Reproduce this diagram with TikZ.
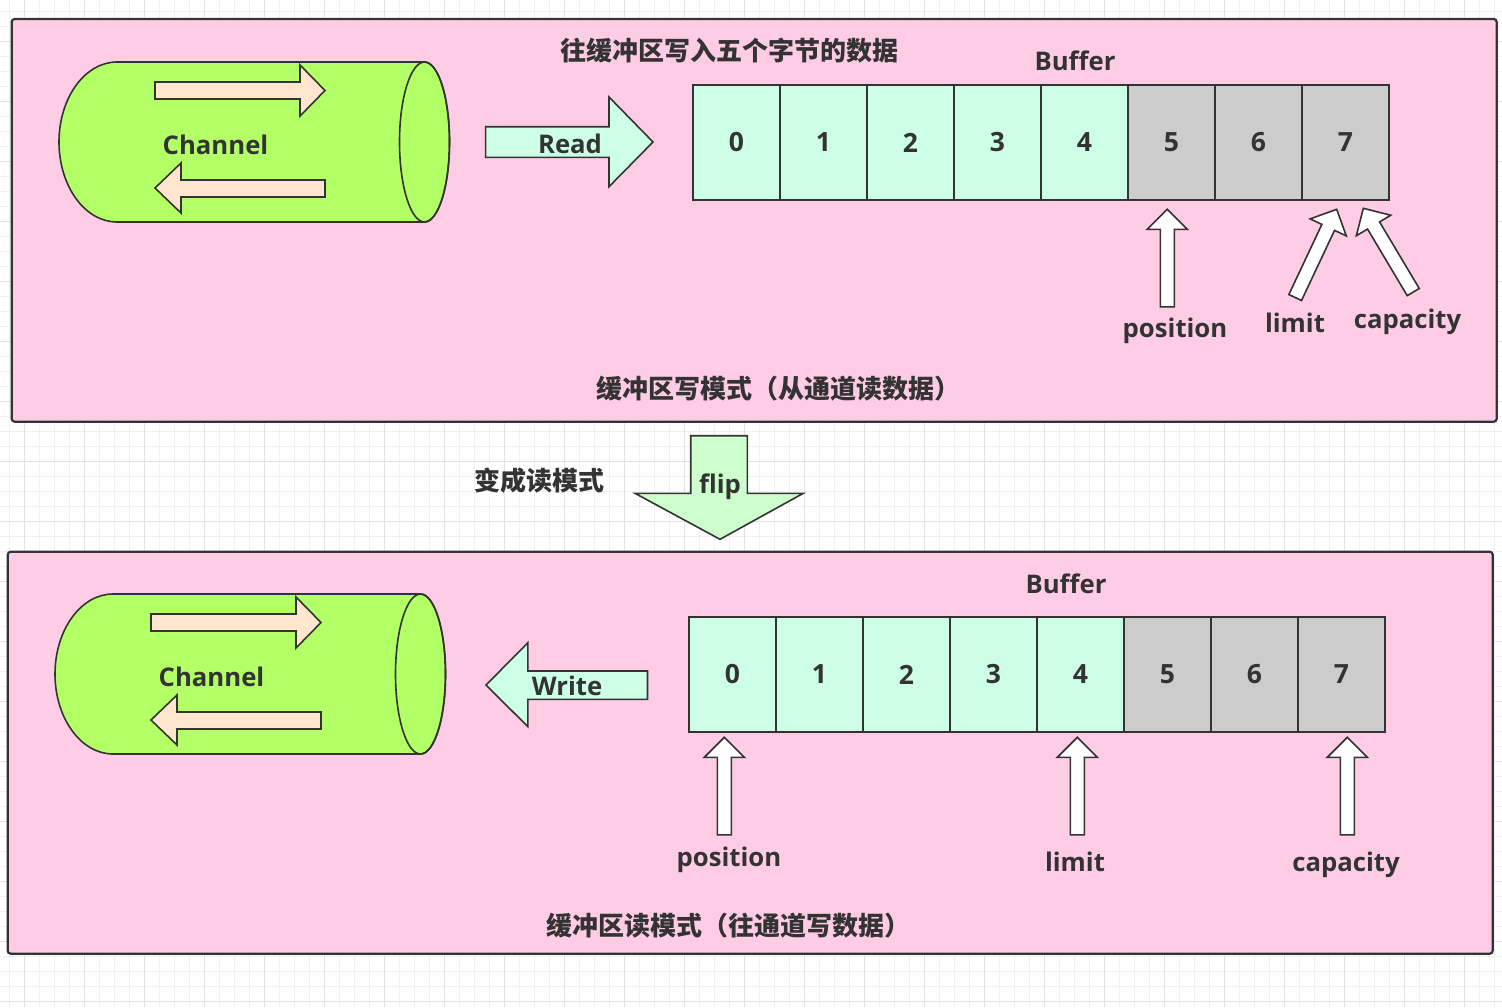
\documentclass[tikz,border=0pt]{standalone}
\usepackage{fontspec}
\setmainfont{Open Sans}
\newfontfamily\cjkfont{Noto Sans CJK SC}
\definecolor{textgray}{HTML}{333333}
\definecolor{linegray}{HTML}{333333}
\definecolor{panelpink}{HTML}{FFCCE6}
\definecolor{chgreen}{HTML}{B3FF66}
\definecolor{peach}{HTML}{FFE6CC}
\definecolor{mint}{HTML}{CCFFE6}
\definecolor{cellgray}{HTML}{CCCCCC}
\definecolor{flipgreen}{HTML}{CCFFCC}
\definecolor{gridlight}{HTML}{F0F0F0}
\definecolor{griddark}{HTML}{E2E2E2}
\tikzset{
  lat/.style={text=textgray, font=\fontsize{25.7}{30}\selectfont\bfseries, inner sep=0pt, anchor=base},
  cjk/.style={text=textgray, font=\fontsize{26}{30}\selectfont\cjkfont\bfseries, inner sep=0pt},
  panel/.style={draw=linegray, line width=2.2pt, fill=panelpink, rounded corners=3pt},
  shp/.style={draw=linegray, line width=1.6pt, line join=miter},
  chan/.style={shp, fill=chgreen},
  small/.style={shp, fill=peach},
  rw/.style={shp, fill=mint},
  cellbox/.style={shp, minimum width=87pt, minimum height=115pt, inner sep=0pt, text=textgray, font=\fontsize{26.5}{30}\selectfont\bfseries},
  full/.style={cellbox, fill=mint},
  empty/.style={cellbox, fill=cellgray},
  pointer/.pic={\draw[shp, fill=white] (0,0) -- (20,20) -- (7,20) -- (7,97.5) -- (-7,97.5) -- (-7,20) -- (-20,20) -- cycle;},
  channel/.pic={
    \path[chan] (117,62) -- (424.5,62) arc[start angle=90, end angle=-90, x radius=25pt, y radius=80pt]
      -- (117,222) arc[start angle=270, end angle=90, x radius=58pt, y radius=80pt] -- cycle;
    \draw[shp] (424.5,142) ellipse [x radius=25pt, y radius=80pt];
    \draw[small] (155,82) -- (300,82) -- (300,65) -- (325,90.5) -- (300,116) -- (300,99) -- (155,99) -- cycle;
    \draw[small] (325,180) -- (181,180) -- (181,163) -- (155,188) -- (181,213) -- (181,197) -- (325,197) -- cycle;
  }
}
\begin{document}
\begin{tikzpicture}[x=1pt, y=-1pt]
\useasboundingbox (0,0) rectangle (1502,1007);
\fill[white] (0,0) rectangle (1502,1007);
% grid
\begin{scope}[line width=1pt]
\foreach \i in {0,...,99} {\draw[gridlight] ({9.3+15*\i},0) -- ({9.3+15*\i},1007);}
\foreach \i in {0,...,67} {\draw[gridlight] (0,{11.7+15*\i}) -- (1502,{11.7+15*\i});}
\foreach \i in {0,...,24} {\draw[griddark] ({24.3+60*\i},0) -- ({24.3+60*\i},1007);}
\foreach \i in {0,...,16} {\draw[griddark] (0,{41.7+60*\i}) -- (1502,{41.7+60*\i});}
\end{scope}

% ===== top panel =====
\draw[panel] (11.7,19) rectangle (1496.7,421.7);
\pic {channel};
\node[lat] (chanT) at (215.5,154) {Channel};
\draw[rw] (485.6,126.7) -- (609,126.7) -- (609,97) -- (653,142) -- (609,186.7) -- (609,157.3) -- (485.6,157.3) -- cycle;
\node[lat] (readT) at (570,153) {Read};
\node[cjk] (titleT) at (729,50.5) {往缓冲区写入五个字节的数据};
\node[lat] (bufT) at (1075,70) {Buffer};
\foreach \i in {0,...,4} {\node[full] (t\i) at ({736.5+87*\i},142.5) {\i};}
\foreach \i in {5,...,7} {\node[empty] (t\i) at ({736.5+87*\i},142.5) {\i};}
\pic at (1167.3,209.3) {pointer};
\pic[rotate=-25.2] at (1336.7,209.3) {pointer};
\pic[rotate=30.8] at (1363.3,208.3) {pointer};
\node[lat] (posT) at (1175,337) {position};
\node[lat] (limT) at (1295,332.7) {limit};
\node[lat] (capT) at (1407.5,328.3) {capacity};
\node[cjk] (modeT) at (778,389) {缓冲区写模式（从通道读数据）};

% ===== middle =====
\draw[shp, fill=flipgreen] (690.7,435.7) -- (747.3,435.7) -- (747.3,493.3) -- (803.3,493.3) -- (720,539.3) -- (635,493.3) -- (690.7,493.3) -- cycle;
\node[lat] (flipL) at (720,493) {flip};
\node[cjk] (toread) at (539,480.3) {变成读模式};

% ===== bottom panel =====
\draw[panel] (7.7,551.7) rectangle (1492.7,953.7);
\pic[shift={(-4,532)}] {channel};
\node[lat] (chanB) at (211.5,686) {Channel};
\draw[rw] (647.5,671) -- (527.9,671) -- (527.9,642.7) -- (486,685) -- (527.9,726.7) -- (527.9,699.3) -- (647.5,699.3) -- cycle;
\node[lat] (writeB) at (567,695) {Write};
\node[lat] (bufB) at (1066,593) {Buffer};
\foreach \i in {0,...,4} {\node[full] (b\i) at ({732.5+87*\i},674.5) {\i};}
\foreach \i in {5,...,7} {\node[empty] (b\i) at ({732.5+87*\i},674.5) {\i};}
\pic at (724.3,737.3) {pointer};
\pic at (1077.3,737.3) {pointer};
\pic at (1347.3,737.3) {pointer};
\node[lat] (posB) at (729,866.7) {position};
\node[lat] (limB) at (1075,871.7) {limit};
\node[lat] (capB) at (1346,871.7) {capacity};
\node[cjk] (modeB) at (728,926) {缓冲区读模式（往通道写数据）};
\end{tikzpicture}
\end{document}
